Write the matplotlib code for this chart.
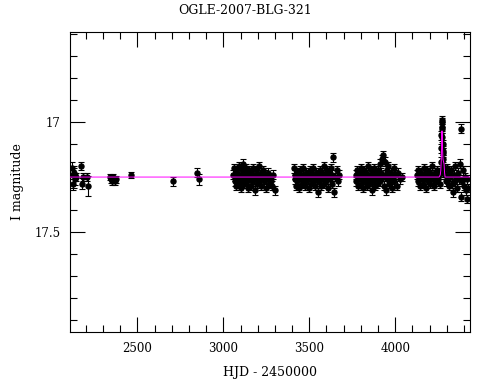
import matplotlib
matplotlib.use('Agg')
import matplotlib.pyplot as plt
from matplotlib.ticker import MultipleLocator

plt.rcParams['font.family'] = ['DejaVu Serif']

# early sparse points
t0 = [2118, 2124, 2127, 2130, 2135, 2142, 2172, 2180, 2186, 2205, 2215,
      2340, 2348, 2355, 2360, 2366, 2372, 2378, 2463, 2709, 2848, 2858]
m0 = [17.21, 17.24, 17.28, 17.23, 17.26, 17.25, 17.20, 17.28, 17.25, 17.25, 17.29,
      17.25, 17.26, 17.27, 17.25, 17.26, 17.27, 17.26, 17.24, 17.27, 17.23, 17.26]
e0 = [0.03, 0.02, 0.03, 0.02, 0.025, 0.02, 0.02, 0.025, 0.02, 0.02, 0.045,
      0.015, 0.015, 0.015, 0.015, 0.015, 0.015, 0.015, 0.015, 0.02, 0.02, 0.025]

# season 2003/04
t1 = [3058, 3062, 3065, 3069, 3072, 3075, 3079, 3082, 3086, 3089, 3093, 3097, 3101, 3104,
      3108, 3112, 3116, 3119, 3123, 3127, 3131, 3135, 3139, 3142, 3146, 3150, 3154, 3158,
      3162, 3166, 3170, 3174, 3178, 3182, 3186, 3190, 3195, 3199, 3203, 3208, 3212, 3217,
      3221, 3226, 3231, 3236, 3241, 3246, 3251, 3257, 3263, 3269, 3276, 3283, 3291, 3300]
m1 = [17.24, 17.21, 17.27, 17.25, 17.29, 17.22, 17.26, 17.23, 17.28, 17.25, 17.20, 17.27,
      17.24, 17.30, 17.22, 17.26, 17.19, 17.25, 17.28, 17.23, 17.21, 17.27, 17.24, 17.30,
      17.26, 17.22, 17.25, 17.29, 17.23, 17.27, 17.24, 17.21, 17.26, 17.31, 17.25, 17.22,
      17.28, 17.24, 17.27, 17.20, 17.26, 17.23, 17.29, 17.25, 17.22, 17.27, 17.24, 17.30,
      17.26, 17.23, 17.28, 17.25, 17.27, 17.29, 17.24, 17.31]

# season 2005
t2 = [3410, 3414, 3418, 3422, 3426, 3431, 3435, 3440, 3445, 3449, 3454, 3459, 3464, 3468,
      3473, 3478, 3483, 3487, 3492, 3497, 3502, 3506, 3511, 3516, 3521, 3525, 3530, 3534,
      3539, 3543, 3548, 3552, 3557, 3561, 3566, 3570, 3575, 3579, 3584, 3588, 3593, 3597,
      3602, 3606, 3611, 3615, 3620, 3625, 3630, 3635, 3640, 3645, 3652, 3660, 3668, 3675]
m2 = [17.21, 17.26, 17.24, 17.29, 17.23, 17.27, 17.25, 17.30, 17.22, 17.26, 17.24, 17.28,
      17.21, 17.25, 17.29, 17.23, 17.27, 17.24, 17.26, 17.30, 17.22, 17.25, 17.28, 17.24,
      17.21, 17.27, 17.25, 17.29, 17.23, 17.26, 17.32, 17.24, 17.27, 17.22, 17.25, 17.29,
      17.23, 17.26, 17.20, 17.28, 17.24, 17.27, 17.22, 17.25, 17.30, 17.23, 17.26, 17.21,
      17.28, 17.24, 17.16, 17.32, 17.25, 17.22, 17.27, 17.24]

# season 2006
t3 = [3770, 3774, 3778, 3782, 3786, 3790, 3794, 3798, 3802, 3806, 3810, 3814, 3818, 3822,
      3826, 3830, 3834, 3838, 3842, 3846, 3850, 3854, 3858, 3862, 3866, 3870, 3874, 3878,
      3882, 3886, 3890, 3894, 3898, 3902, 3906, 3910, 3914, 3918, 3922, 3926, 3930, 3934,
      3938, 3942, 3946, 3950, 3954, 3958, 3962, 3966, 3970, 3975, 3980, 3985, 3990, 3995,
      4000, 4008, 4018, 4030, 4042]
m3 = [17.24, 17.27, 17.22, 17.26, 17.29, 17.23, 17.25, 17.21, 17.28, 17.24, 17.26, 17.30,
      17.22, 17.25, 17.27, 17.23, 17.29, 17.24, 17.20, 17.26, 17.28, 17.25, 17.22, 17.27,
      17.31, 17.24, 17.21, 17.26, 17.29, 17.23, 17.25, 17.28, 17.22, 17.26, 17.24, 17.19,
      17.27, 17.23, 17.17, 17.25, 17.15, 17.29, 17.18, 17.24, 17.31, 17.22, 17.26, 17.20,
      17.28, 17.24, 17.27, 17.23, 17.30, 17.25, 17.21, 17.27, 17.24, 17.29, 17.23, 17.26,
      17.25]

# season 2007, before the event
t4a = [4125, 4130, 4135, 4140, 4145, 4150, 4155, 4160, 4165, 4170, 4175, 4180, 4185, 4190,
       4195, 4200, 4205, 4210, 4215, 4220, 4225, 4230, 4235, 4240, 4245, 4250, 4255, 4260]
m4a = [17.24, 17.27, 17.22, 17.26, 17.29, 17.23, 17.25, 17.28, 17.21, 17.26, 17.24, 17.30,
       17.22, 17.27, 17.25, 17.23, 17.28, 17.24, 17.20, 17.26, 17.29, 17.23, 17.25, 17.27,
       17.22, 17.26, 17.24, 17.28]

# the event
tp = [4264, 4266, 4268, 4269, 4270, 4271, 4272, 4273, 4274, 4275, 4276, 4277, 4278, 4280,
      4282, 4285]
mp = [17.22, 17.18, 17.12, 17.06, 17.02, 16.99, 17.00, 17.03, 17.07, 17.10, 17.14, 17.13,
      17.17, 17.20, 17.23, 17.21]

# season 2007, after the event
t4b = [4290, 4295, 4300, 4305, 4310, 4315, 4320, 4325, 4330, 4335, 4340, 4345, 4350, 4355,
       4360, 4365, 4370, 4375, 4382, 4385, 4390, 4395, 4400, 4405, 4410, 4415, 4420, 4424]
m4b = [17.24, 17.27, 17.21, 17.26, 17.23, 17.29, 17.25, 17.22, 17.28, 17.32, 17.24, 17.20,
       17.27, 17.25, 17.30, 17.23, 17.26, 17.19, 17.03, 17.34, 17.27, 17.22, 17.29, 17.25,
       17.31, 17.26, 17.35, 17.30]
err = 0.02

# model curve
tm = [2108, 4255, 4262, 4265, 4268, 4270, 4272, 4274, 4276, 4278, 4281, 4284, 4287, 4290, 4435]
mm = [17.25, 17.25, 17.24, 17.22, 17.17, 17.10, 17.04, 17.09, 17.14, 17.17, 17.18, 17.19,
      17.23, 17.25, 17.25]

fig = plt.figure(figsize=(4.9, 3.8), dpi=100)
ax = fig.add_axes([0.1429, 0.1263, 0.8163, 0.7895])

kw = dict(fmt='o', color='black', ms=3.6, elinewidth=0.8, capsize=2, capthick=0.8)
ax.errorbar(t0, m0, yerr=e0, **kw)
for t, m in [(t1, m1), (t2, m2), (t3, m3), (t4a, m4a), (tp, mp), (t4b, m4b)]:
    ax.errorbar(t, m, yerr=err, **kw)

ax.plot(tm, mm, color='magenta', lw=0.7, zorder=5)

ax.set_xlim(2108, 4435)
ax.set_ylim(17.955, 16.59)
ax.xaxis.set_major_locator(MultipleLocator(500))
ax.xaxis.set_minor_locator(MultipleLocator(100))
ax.yaxis.set_major_locator(MultipleLocator(0.5))
ax.yaxis.set_minor_locator(MultipleLocator(0.1))
ax.yaxis.set_major_formatter(plt.FuncFormatter(lambda v, p: '%g' % v))
ax.tick_params(which='both', direction='in', top=True, right=True, width=0.8, labelsize=8.5)
ax.tick_params(which='major', length=11, pad=7)
ax.tick_params(which='minor', length=5)
for s in ax.spines.values():
    s.set_linewidth(0.8)

ax.set_xlabel('HJD - 2450000', fontsize=9, labelpad=8)
ax.set_ylabel('I magnitude', fontsize=9, labelpad=7)
fig.text(0.5, 0.973, 'OGLE-2007-BLG-321', ha='center', va='center', fontsize=9)

fig.savefig('out.png', dpi=100)
